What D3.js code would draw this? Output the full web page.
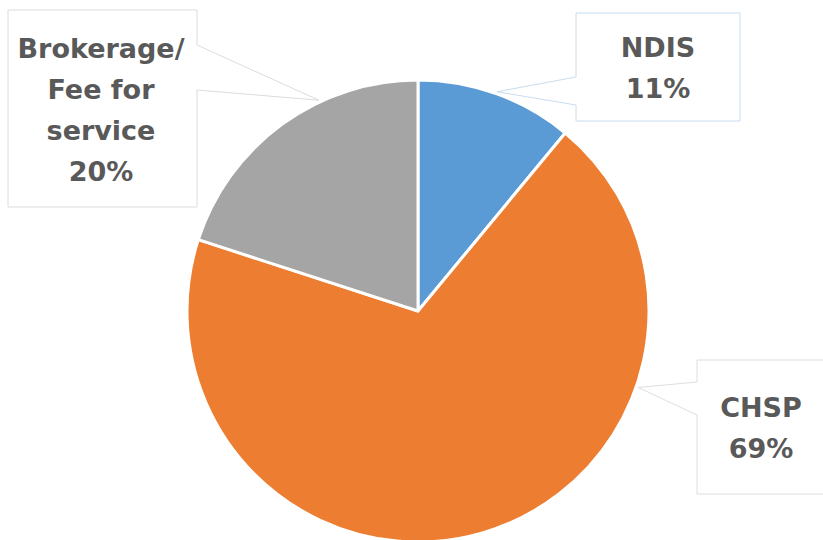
<!DOCTYPE html>
<html>
<head>
<meta charset="utf-8">
<script src="https://cdn.jsdelivr.net/npm/d3@7"></script>
<style>
  body { margin: 0; background: #fff; }
  svg { display: block; }
</style>
</head>
<body>
<div id="chart"></div>
<script>
// data
var categories = ["NDIS", "CHSP", "Brokerage/\nFee for\nservice"];
var values = [11, 69, 20];
var colors = ["#5B9BD5", "#ED7D31", "#A5A5A5"];

// callout layout (box + where the pointer meets the pie, as fraction of slice)
var callouts = [
    {x: 576, y: 13, w: 164, h: 108, side: "left", b0: 77, b1: 105, t: 0.5, border: "#c9dcee", tx: 658},
    {x: 697, y: 360, w: 140, h: 134, side: "left", b0: 382, b1: 415, t: 0.28, border: "#dedede", tx: 761},
    {x: 8, y: 10, w: 189, h: 197, side: "right", b0: 45, b1: 90, t: 0.65, border: "#dcdcdc", tx: 101}
];

var width = 823, height = 540;
var cx = 418, cy = 311, radius = 231;

var svg = d3.select("#chart")
    .append("svg")
    .attr("width", width)
    .attr("height", height);

var pie = d3.pie()
    .sort(null)
    .value(function(d) { return d; });

var arc = d3.arc()
    .innerRadius(0)
    .outerRadius(radius);

var arcs = pie(values);

var g = svg.append("g")
    .attr("transform", "translate(" + cx + "," + cy + ")");

g.selectAll("path.slice")
    .data(arcs)
    .enter()
    .append("path")
    .attr("class", "slice")
    .attr("d", arc)
    .attr("fill", function(d, i) { return colors[i]; })
    .attr("stroke", "#fff")
    .attr("stroke-width", 3)
    .attr("stroke-linejoin", "round");

// callouts
arcs.forEach(function(d, i) {
    var c = callouts[i];
    var a = d.startAngle + (d.endAngle - d.startAngle) * c.t;
    var tx = cx + (radius + 2) * Math.sin(a),
        ty = cy - (radius + 2) * Math.cos(a);

    var x0 = c.x, y0 = c.y, x1 = c.x + c.w, y1 = c.y + c.h;
    var pts;
    if (c.side == "right") {
        pts = [[x0, y0], [x1, y0], [x1, c.b0], [tx, ty], [x1, c.b1], [x1, y1], [x0, y1]];
    } else {
        pts = [[x0, y0], [x1, y0], [x1, y1], [x0, y1], [x0, c.b1], [tx, ty], [x0, c.b0]];
    }

    svg.append("path")
        .attr("d", d3.line()(pts) + "Z")
        .attr("fill", "#fff")
        .attr("stroke", c.border)
        .attr("stroke-width", 1);

    var lines = (categories[i] + "\n" + values[i] + "%").split("\n");
    var lh = 41;
    var midY = y0 + c.h / 2 + 1;
    var startY = midY - (lines.length - 1) * lh / 2;
    var text = svg.append("text")
        .attr("text-anchor", "middle")
        .attr("font-family", "'DejaVu Sans', sans-serif")
        .attr("font-weight", 700)
        .attr("font-size", 27)
        .attr("fill", "#595959");
    lines.forEach(function(s, j) {
        text.append("tspan")
            .attr("x", c.tx)
            .attr("y", startY + j * lh)
            .attr("dy", "0.36em")
            .text(s);
    });
});
</script>
</body>
</html>
